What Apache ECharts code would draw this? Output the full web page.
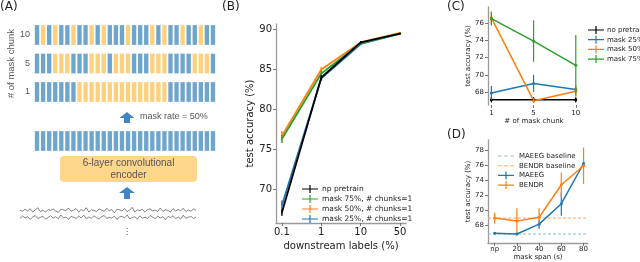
<!DOCTYPE html>
<html><head><meta charset="utf-8">
<script src="https://cdn.jsdelivr.net/npm/echarts@6/dist/echarts.min.js"></script>
<style>html,body{margin:0;padding:0;background:#fff}#c{width:640px;height:262px}</style>
</head><body><div id="c"></div>
<script>
// ---------- Panel A data ----------
const maskRowLabels = ['1', '5', '10'];
const maskRow1  = 'BBBBBBBOOOOOOOOOOOOOOOBBBBBBBB'.split('');
const maskRow5  = 'BBBOOOBBBOOOBOOOBBBOOOBBBBOOOB'.split('');
const maskRow10 = 'BOBOBBOBBOBOBBBOBBBOBOBBOBBOBB'.split('');
const encodedRow = 'BBBBBBBBBBBBBBBBBBBBBBBBBBBBBB'.split('');
const eegTrace1 = [0.1,-0.3,0.4,-0.2,0.6,-0.5,0.2,0.9,-0.4,0.1,-0.6,0.3,0.0,0.5,-0.2,-0.7,0.4,0.2,-0.1,0.8,-0.3,0.1,0.6,-0.5,0.3,-0.2,0.9,-0.6,0.2,0.0,-0.4,0.5,0.1,-0.3,0.7,-0.1,0.3,-0.8,0.4,0.2,-0.2,0.6,-0.4,0.1,1.0,-0.5,0.2,-0.1,0.4,-0.6,0.3,0.5,-0.2,0.1,-0.4,0.8,-0.3,0.2,0.0,-0.5,0.6,-0.2,0.3,-0.1,0.7,-0.4,0.2,-0.3,0.5,0.0];
const eegTrace2 = [-0.2,0.5,-0.1,0.3,-0.6,0.2,0.7,-0.3,0.1,0.4,-0.5,0.0,0.6,-0.2,0.3,-0.4,0.9,-0.1,0.2,-0.6,0.4,0.1,-0.3,0.5,-0.1,0.8,-0.4,0.2,-0.2,0.6,0.0,-0.5,0.3,0.7,-0.3,0.1,-0.2,0.5,-0.6,0.2,0.4,-0.1,0.9,-0.4,0.0,0.3,-0.5,0.6,-0.2,0.1,-0.3,0.7,0.2,-0.4,0.5,-0.1,0.3,-0.7,0.4,0.0,0.6,-0.3,0.2,-0.5,0.8,-0.2,0.1,0.4,-0.3,0.2];

// ---------- Panel B data ----------
const bCategories = ['0.1', '1', '10', '50'];
const bNoPretrain = [67.1, 84.0, 88.4, 89.5];
const bNoPretrainErr = [0.4, 0.3, 0.15, 0.1];
const bMask75 = [76.3, 84.5, 88.3, 89.5];
const bMask75Err = [0.5, 0.3, 0.15, 0.1];
const bMask50 = [76.7, 85.0, 88.4, 89.6];
const bMask50Err = [0.6, 0.3, 0.15, 0.1];
const bMask25 = [68.0, 83.9, 88.2, 89.5];
const bMask25Err = [0.6, 0.3, 0.15, 0.1];
const bYTicks = [70, 75, 80, 85, 90];

// ---------- Panel C data ----------
const cCategories = ['1', '5', '10'];
const cNoPretrain = [67.1, 67.1, 67.1];
const cNoPretrainErr = [0.3, 0.3, 0.3];
const cMask25 = [67.9, 69.0, 68.3];
const cMask25Err = [0.8, 1.0, 0.3];
const cMask50 = [76.6, 67.0, 68.1];
const cMask50Err = [0.7, 0.3, 0.7];
const cMask75 = [76.5, 73.9, 71.1];
const cMask75Err = [0.8, 2.4, 3.5];
const cYTicks = [68, 70, 72, 74, 76];

// ---------- Panel D data ----------
const dCategories = ['np', '20', '40', '60', '80'];
const dMaeeg = [67.0, 66.9, 68.2, 70.9, 76.2];
const dMaeegErr = [0.15, 0.1, 0.6, 1.6, 0.4];
const dBendr = [69.0, 68.6, 69.1, 73.4, 75.9];
const dBendrErr = [0.7, 1.7, 1.2, 1.6, 2.4];
const dMaeegBaseline = 66.9;
const dBendrBaseline = 69.0;
const dYTicks = [68, 70, 72, 74, 76, 78];

// ---------- styling ----------
const FONT = 'DejaVu Sans';
const AFONT = 'Liberation Sans';
const BLUE = '#1f77b4', ORANGE = '#ff7f0e', GREEN = '#2ca02c', BLACK = '#000000';
const CELL_BLUE = '#4a8fc1', CELL_ORANGE = '#fdc45c';
const SPINE = '#9a9a9a';
const PLUS = 'path://M0,3.4h16v1.2h-16z M7.4,0h1.2v8h-1.2z';
const DASH = 'path://M0,0h0.01v0.01h-0.01z M0,3.5h3.6v1h-3.6z M6.2,3.5h3.6v1h-3.6z M12.4,3.5h3.6v1h-3.6z M15.99,7.99h0.01v0.01h-0.01z';

const idx = a => a.map((_, i) => i);
const pairs = (xs, ys) => xs.map((x, i) => [x, ys[i]]);

function cells(rows, code) {
  const out = [];
  rows.forEach((row, r) => row.forEach((c, i) => { if (c === code) out.push([i, r]); }));
  return out;
}
function errBars(gi, xs, ys, es, color, width, z) {
  return {
    type: 'custom', xAxisIndex: gi, yAxisIndex: gi, silent: true, z: z || 3,
    data: xs.map((x, k) => [x, ys[k] - es[k], ys[k] + es[k]]),
    encode: { x: 0, y: [1, 2] },
    renderItem: (p, api) => {
      const a = api.coord([api.value(0), api.value(1)]);
      const b = api.coord([api.value(0), api.value(2)]);
      return { type: 'line', shape: { x1: a[0], y1: a[1], x2: b[0], y2: b[1] },
               style: { stroke: color, lineWidth: width } };
    }
  };
}
function line(name, gi, xs, ys, color, width, sym, z) {
  return {
    name, type: 'line', xAxisIndex: gi, yAxisIndex: gi, data: pairs(xs, ys),
    symbol: sym ? 'circle' : 'none', symbolSize: sym || 0, showSymbol: !!sym,
    itemStyle: { color }, lineStyle: { color, width }, z: z || 2, silent: true
  };
}
function hiddenAxis(gi, type, min, max, extra) {
  return Object.assign({ gridIndex: gi, type, min, max, show: false }, extra || {});
}
function dataXAxis(gi, min, max, cats, fs, name, nameGap, showLine, margin) {
  const vals = idx(cats);
  return {
    gridIndex: gi, type: 'value', min, max,
    axisLine: { show: showLine, onZero: false, lineStyle: { color: SPINE, width: 1.3 } },
    axisTick: { show: true, customValues: vals, length: 3, lineStyle: { color: '#555', width: 0.8 } },
    axisLabel: { customValues: vals, formatter: v => cats[Math.round(v)], fontSize: fs, color: '#222', margin, fontFamily: FONT },
    splitLine: { show: false },
    name, nameLocation: 'middle', nameGap, nameTextStyle: { fontSize: fs, color: '#222', fontFamily: FONT }
  };
}
function dataYAxis(gi, min, max, ticks, fs, name, nameGap, margin) {
  return {
    gridIndex: gi, type: 'value', min, max,
    axisLine: { show: true, onZero: false, lineStyle: { color: SPINE, width: 1.3 } },
    axisTick: { show: true, customValues: ticks, length: 3, lineStyle: { color: '#555', width: 0.8 } },
    axisLabel: { customValues: ticks, fontSize: fs, color: '#222', margin, fontFamily: FONT },
    splitLine: { show: false },
    name, nameLocation: 'middle', nameGap, nameTextStyle: { fontSize: fs, color: '#222', fontFamily: FONT }
  };
}

const maskRows = [maskRow1, maskRow5, maskRow10];
const B_MIN = -0.15, B_MAX = 3.15, C_MIN = -0.08, C_MAX = 2.1, D_MIN = -0.3, D_MAX = 4.2;
const bX = idx(bCategories), cX = idx(cCategories), dX = idx(dCategories);

const option = {
  animation: false,
  backgroundColor: '#fff',
  grid: [
    { left: 34, width: 182, top: 20.75, height: 85.5 },   // 0: mask rows
    { left: 34, width: 182, top: 131, height: 20 },       // 1: encoded row
    { left: 20, width: 176, top: 205, height: 18 },       // 2: eeg
    { left: 276, width: 130, top: 24, height: 199 },      // 3: B
    { left: 488, width: 92, top: 7, height: 98 },         // 4: C
    { left: 488, width: 100, top: 140, height: 107 }      // 5: D
  ],
  xAxis: [
    hiddenAxis(0, 'value', -0.5, 29.5),
    hiddenAxis(1, 'value', -0.5, 29.5),
    hiddenAxis(2, 'value', 0, eegTrace1.length - 1),
    dataXAxis(3, B_MIN, B_MAX, bCategories, 10, 'downstream labels (%)', 14, true, 4),
    dataXAxis(4, C_MIN, C_MAX, cCategories, 7, '# of mask chunk', 13, false, 5),
    dataXAxis(5, D_MIN, D_MAX, dCategories, 7, 'mask span (s)', 10, true, 3)
  ],
  yAxis: [
    { gridIndex: 0, type: 'category', data: maskRowLabels, axisLine: { show: false }, axisTick: { show: false },
      axisLabel: { fontSize: 9, color: '#555', margin: 4, fontFamily: AFONT },
      name: '# of mask chunk', nameLocation: 'middle', nameGap: 16, nameTextStyle: { fontSize: 9.5, color: '#555', fontFamily: AFONT } },
    hiddenAxis(1, 'value', -1, 1),
    hiddenAxis(2, 'value', -3, 3),
    dataYAxis(3, 65.8, 90.7, bYTicks, 10, 'test accuracy (%)', 18, 4),
    dataYAxis(4, 66.5, 77.85, cYTicks, 7, 'test accuracy (%)', 14, 4),
    dataYAxis(5, 65.7, 79.3, dYTicks, 7, 'test accuracy (%)', 14, 4)
  ],
  legend: [
    { left: 297, top: 180, orient: 'vertical', itemWidth: 16, itemHeight: 8, itemGap: 2, selectedMode: false,
      textStyle: { fontSize: 7.5, color: '#222', fontFamily: FONT, padding: [0, 0, 0, -1] },
      itemStyle: { borderWidth: 0 },
      data: ['np pretrain', 'mask 75%, # chunks=1', 'mask 50%, # chunks=1', 'mask 25%, # chunks=1'].map(n => ({ name: n, icon: PLUS })) },
    { left: 583, top: 21, orient: 'vertical', itemWidth: 16, itemHeight: 8, itemGap: 1.7, selectedMode: false,
      textStyle: { fontSize: 7, color: '#222', fontFamily: FONT, padding: [0, 0, 0, -2] },
      itemStyle: { borderWidth: 0 },
      data: ['no pretrain', 'mask 25%', 'mask 50%', 'mask 75%'].map(n => ({ name: n, icon: PLUS })) },
    { left: 493, top: 147, orient: 'vertical', itemWidth: 16, itemHeight: 8, itemGap: 1.7, selectedMode: false,
      textStyle: { fontSize: 7, color: '#222', fontFamily: FONT },
      itemStyle: { borderWidth: 0 },
      data: [{ name: 'MAEEG baseline', icon: DASH }, { name: 'BENDR baseline', icon: DASH },
             { name: 'MAEEG', icon: PLUS }, { name: 'BENDR', icon: PLUS }] }
  ],
  series: [
    // Panel A
    { type: 'scatter', xAxisIndex: 0, yAxisIndex: 0, symbol: 'rect', symbolSize: [4.4, 20], silent: true,
      itemStyle: { color: CELL_BLUE, borderColor: 'rgba(255,255,255,0.35)', borderWidth: 0.5 }, data: cells(maskRows, 'B') },
    { type: 'scatter', xAxisIndex: 0, yAxisIndex: 0, symbol: 'rect', symbolSize: [4.4, 20], silent: true,
      itemStyle: { color: CELL_ORANGE, borderColor: 'rgba(255,255,255,0.35)', borderWidth: 0.5 }, data: cells(maskRows, 'O') },
    { type: 'scatter', xAxisIndex: 1, yAxisIndex: 1, symbol: 'rect', symbolSize: [4.4, 20], silent: true,
      itemStyle: { color: CELL_BLUE, borderColor: 'rgba(255,255,255,0.35)', borderWidth: 0.5 }, data: cells([encodedRow], 'B') },
    { type: 'line', xAxisIndex: 2, yAxisIndex: 2, symbol: 'none', silent: true, lineStyle: { color: '#333', width: 0.6 },
      data: eegTrace1.map((v, i) => [i, v + 1.2]) },
    { type: 'line', xAxisIndex: 2, yAxisIndex: 2, symbol: 'none', silent: true, lineStyle: { color: '#333', width: 0.6 },
      data: eegTrace2.map((v, i) => [i, v - 1.2]) },

    // Panel B
    line('mask 25%, # chunks=1', 3, bX, bMask25, BLUE, 1.8, 0, 2),
    errBars(3, bX, bMask25, bMask25Err, BLUE, 1.5),
    line('mask 50%, # chunks=1', 3, bX, bMask50, ORANGE, 1.8, 0, 2),
    errBars(3, bX, bMask50, bMask50Err, ORANGE, 1.5),
    line('mask 75%, # chunks=1', 3, bX, bMask75, GREEN, 1.8, 0, 2),
    errBars(3, bX, bMask75, bMask75Err, GREEN, 1.5),
    line('np pretrain', 3, bX, bNoPretrain, BLACK, 1.8, 0, 4),
    errBars(3, bX, bNoPretrain, bNoPretrainErr, BLACK, 1.5, 4),

    // Panel C
    line('no pretrain', 4, cX, cNoPretrain, BLACK, 1.5, 3, 2),
    errBars(4, cX, cNoPretrain, cNoPretrainErr, BLACK, 1.2),
    line('mask 25%', 4, cX, cMask25, BLUE, 1.5, 3, 2),
    errBars(4, cX, cMask25, cMask25Err, BLUE, 1.2),
    line('mask 50%', 4, cX, cMask50, ORANGE, 1.5, 3, 2),
    errBars(4, cX, cMask50, cMask50Err, ORANGE, 1.2),
    line('mask 75%', 4, cX, cMask75, GREEN, 1.5, 3, 4),
    errBars(4, cX, cMask75, cMask75Err, GREEN, 1.2, 4),

    // Panel D
    { name: 'MAEEG baseline', type: 'line', xAxisIndex: 5, yAxisIndex: 5, symbol: 'none', silent: true,
      itemStyle: { color: '#8fbbdb' }, lineStyle: { color: '#8fbbdb', width: 1, type: [3, 2] },
      data: [[D_MIN, dMaeegBaseline], [D_MAX, dMaeegBaseline]] },
    { name: 'BENDR baseline', type: 'line', xAxisIndex: 5, yAxisIndex: 5, symbol: 'none', silent: true,
      itemStyle: { color: '#ffa756' }, lineStyle: { color: '#ffa756', width: 1, type: [3, 2] },
      data: [[D_MIN, dBendrBaseline], [D_MAX, dBendrBaseline]] },
    line('MAEEG', 5, dX, dMaeeg, BLUE, 1.5, 3, 3),
    errBars(5, dX, dMaeeg, dMaeegErr, BLUE, 1.2),
    line('BENDR', 5, dX, dBendr, ORANGE, 1.5, 3, 3),
    errBars(5, dX, dBendr, dBendrErr, ORANGE, 1.2)
  ],
  graphic: [
    { type: 'text', left: 0, top: 1, style: { text: '(A)', fontSize: 12, fill: '#222', fontFamily: FONT } },
    { type: 'text', left: 222, top: 1, style: { text: '(B)', fontSize: 12, fill: '#222', fontFamily: FONT } },
    { type: 'text', left: 447, top: 1, style: { text: '(C)', fontSize: 12, fill: '#222', fontFamily: FONT } },
    { type: 'text', left: 447, top: 129, style: { text: '(D)', fontSize: 12, fill: '#222', fontFamily: FONT } },
    // arrows
    { type: 'polygon', shape: { points: [[127, 112], [134.5, 118], [130, 118], [130, 123], [124, 123], [124, 118], [119.5, 118]] }, style: { fill: '#3e87c4' } },
    { type: 'polygon', shape: { points: [[127, 187], [135, 193], [130, 193], [130, 199], [124, 199], [124, 193], [119, 193]] }, style: { fill: '#3e87c4' } },
    { type: 'text', left: 140, top: 112.5, style: { text: 'mask rate = 50%', fontSize: 9, fill: '#555', fontFamily: AFONT } },
    // encoder box
    { type: 'rect', shape: { x: 60, y: 156, width: 137, height: 26, r: 4 }, style: { fill: '#fed68c' } },
    { type: 'text', x: 128.5, y: 169, style: { text: '6-layer convolutional\nencoder', fontSize: 10, lineHeight: 11.5, fill: '#555', fontFamily: AFONT, align: 'center', verticalAlign: 'middle' } },
    { type: 'text', x: 127, y: 232, style: { text: '⋮', fontSize: 8, fill: '#444', fontFamily: FONT, align: 'center', verticalAlign: 'middle' } }
  ]
};
const chart = echarts.init(document.getElementById('c'), null, { renderer: 'canvas' });
chart.setOption(option);
</script>
</body></html>
